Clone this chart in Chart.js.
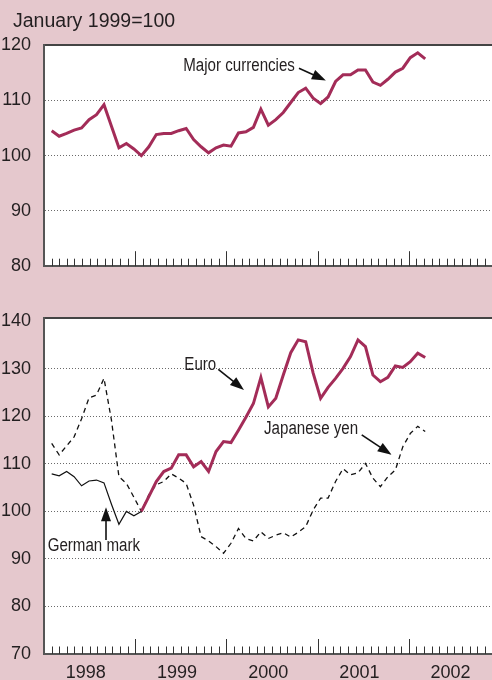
<!DOCTYPE html>
<html>
<head>
<meta charset="utf-8">
<script src="https://cdn.jsdelivr.net/npm/chart.js@4/dist/chart.umd.min.js"></script>
<style>
html,body{margin:0;padding:0;background:#e5c8cd;}
#wrap{position:relative;width:492px;height:680px;background:#e5c8cd;overflow:hidden;}
#wrap canvas{position:absolute;left:0;}
#c1{top:0;}
#c2{top:290px;}
#unit{position:absolute;left:13px;top:8px;line-height:24px;font-family:"Liberation Sans",Arial,Helvetica,sans-serif;font-size:19.5px;color:#231f20;white-space:nowrap;}
</style>
</head>
<body>
<div id="wrap">
<canvas id="c1" width="492" height="290"></canvas>
<canvas id="c2" width="492" height="390"></canvas>
<div id="unit">January 1999=100</div>
</div>
<script>
// ---- data (monthly, January 1999 = 100) ----
const months = ['1998-01','1998-02','1998-03','1998-04','1998-05','1998-06','1998-07','1998-08','1998-09','1998-10','1998-11','1998-12',
'1999-01','1999-02','1999-03','1999-04','1999-05','1999-06','1999-07','1999-08','1999-09','1999-10','1999-11','1999-12',
'2000-01','2000-02','2000-03','2000-04','2000-05','2000-06','2000-07','2000-08','2000-09','2000-10','2000-11','2000-12',
'2001-01','2001-02','2001-03','2001-04','2001-05','2001-06','2001-07','2001-08','2001-09','2001-10','2001-11','2001-12',
'2002-01','2002-02','2002-03'];
const yearLabels = ['1998','1999','2000','2001','2002'];

const majorCurrencies = [104.5,103.5,104.0,104.6,105.0,106.5,107.4,109.2,105.3,101.4,102.2,101.2,
100.0,101.6,103.8,104.0,104.0,104.5,104.9,102.9,101.6,100.5,101.4,101.9,
101.7,104.1,104.3,105.1,108.4,105.5,106.5,107.8,109.6,111.4,112.2,110.4,
109.4,110.6,113.4,114.6,114.6,115.5,115.5,113.3,112.7,113.8,115.1,115.8,
117.7,118.6,117.5];

const euro = [null,null,null,null,null,null,null,null,null,null,null,null,
100.0,103.1,106.3,108.4,109.1,111.9,111.9,109.4,110.5,108.4,112.6,114.7,
114.5,117.1,119.8,122.7,128.2,122.0,123.8,128.7,133.4,136.1,135.7,129.1,
123.8,126.1,128.0,130.1,132.6,136.1,134.7,128.7,127.3,128.2,130.6,130.3,
131.5,133.3,132.4];

const germanMark = [107.9,107.5,108.4,107.3,105.4,106.4,106.6,106.0,101.5,97.3,100.0,99.1,100.0];

const japaneseYen = [114.3,111.9,113.8,115.7,119.5,123.9,124.5,128.0,119.2,107.3,105.9,103.0,
100.0,103.5,105.6,106.3,107.9,107.0,105.9,101.3,94.7,93.8,92.6,91.2,
93.3,96.4,94.3,93.8,95.7,94.3,95.0,95.5,94.6,95.6,96.8,100.3,
102.8,102.8,106.3,109.0,107.7,108.1,110.1,107.0,105.2,107.3,108.7,113.6,
116.4,117.9,116.8];

const topRange = [80, 120];
const bottomRange = [70, 140];

// ---- styling ----
const FONT = '"Liberation Sans", Arial, Helvetica, sans-serif';
const TEXT = '#231f20';
const CRIMSON = '#a32c58';
const AXIS = '#555555';

const pts = arr => arr.map((v, i) => ({x: i, y: v}));

const areaBg = {
  id: 'areaBg',
  beforeDraw(chart) {
    const {ctx, chartArea: a} = chart;
    ctx.save();
    ctx.fillStyle = '#ffffff';
    ctx.fillRect(a.left, a.top, a.right - a.left, a.bottom - a.top);
    ctx.restore();
  }
};

const monthTicks = {
  id: 'monthTicks',
  afterDraw(chart) {
    const {ctx, chartArea: a} = chart;
    const s = chart.scales.xt;
    ctx.save();
    ctx.strokeStyle = '#333';
    ctx.lineWidth = 1;
    for (let m = 1; m < s.max; m++) {
      const x = Math.round(s.getPixelForValue(m)) + 0.5;
      const len = (m % 12 === 0) ? 15 : 7.5;
      ctx.beginPath();
      ctx.moveTo(x, a.bottom);
      ctx.lineTo(x, a.bottom - len);
      ctx.stroke();
    }
    ctx.restore();
  }
};

const notes = {
  id: 'notes',
  afterDatasetsDraw(chart, args, opts) {
    const {ctx} = chart;
    const xs = chart.scales.x, ys = chart.scales.y;
    (opts.items || []).forEach(n => {
      ctx.save();
      ctx.font = '18px ' + FONT;
      ctx.fillStyle = TEXT;
      ctx.textBaseline = 'middle';
      ctx.textAlign = 'left';
      ctx.translate(xs.getPixelForValue(n.at[0]), ys.getPixelForValue(n.at[1]));
      ctx.scale(0.84, 1);
      ctx.fillText(n.text, 0, 0);
      ctx.restore();

      const x1 = xs.getPixelForValue(n.from[0]), y1 = ys.getPixelForValue(n.from[1]);
      const x2 = xs.getPixelForValue(n.to[0]), y2 = ys.getPixelForValue(n.to[1]);
      const ang = Math.atan2(y2 - y1, x2 - x1);
      const L = 14, W = 5;
      const c = Math.cos(ang), s = Math.sin(ang);
      const bx = x2 - L * c, by = y2 - L * s;
      ctx.save();
      ctx.strokeStyle = '#111';
      ctx.fillStyle = '#111';
      ctx.lineWidth = 1.6;
      ctx.beginPath();
      ctx.moveTo(x1, y1);
      ctx.lineTo(bx + 2 * c, by + 2 * s);
      ctx.stroke();
      ctx.beginPath();
      ctx.moveTo(x2, y2);
      ctx.lineTo(bx + W * s, by - W * c);
      ctx.lineTo(bx - W * s, by + W * c);
      ctx.closePath();
      ctx.fill();
      ctx.restore();
    });
  }
};

function scalesFor(range, yMax, showYears, xtHeight) {
  return {
    x: {type: 'linear', display: false, min: -1.03, max: 58.94},
    xtop: {
      type: 'linear', position: 'top', min: 0, max: 1,
      ticks: {display: false}, grid: {display: false},
      border: {display: true, color: '#444', width: 2},
      afterFit(s) { s.height = 0; }
    },
    xt: {
      type: 'linear', position: 'bottom', min: 0, max: 58.95,
      grid: {display: false},
      border: {display: true, color: AXIS, width: 2},
      afterBuildTicks(s) { s.ticks = yearLabels.map((y, j) => ({value: j * 12 + 5.5})); },
      ticks: {
        display: showYears, autoSkip: false, maxRotation: 0, padding: 0,
        color: TEXT, font: {family: FONT, size: 18},
        callback: (v, i) => yearLabels[i]
      },
      afterFit(s) { s.height = xtHeight; }
    },
    y: {
      type: 'linear', min: range[0], max: yMax,
      ticks: {stepSize: 10, includeBounds: false, padding: 13, color: TEXT, font: {family: FONT, size: 18}},
      grid: {
        drawTicks: false, lineWidth: 1,
        color: c => (c.tick && (c.tick.value === range[0] || c.tick.value === range[1])) ? 'rgba(0,0,0,0)' : '#6a6a6a'
      },
      border: {display: true, color: AXIS, width: 2, dash: [1, 2]},
      afterFit(s) { s.width = 44; }
    }
  };
}

const common = {
  responsive: false,
  animation: false,
  devicePixelRatio: 1,
  elements: {point: {radius: 0}, line: {tension: 0}}
};

new Chart(document.getElementById('c1'), {
  type: 'line',
  data: {
    datasets: [{
      label: 'Major currencies', data: pts(majorCurrencies),
      borderColor: CRIMSON, borderWidth: 3, fill: false
    }]
  },
  options: Object.assign({}, common, {
    layout: {padding: {left: 0, right: 0, top: 45, bottom: 0}},
    scales: scalesFor(topRange, 120, false, 15),
    plugins: {
      legend: {display: false},
      tooltip: {enabled: false},
      notes: {items: [
        {text: 'Major currencies', at: [17.6, 116.2], from: [33.1, 115.8], to: [36.7, 113.6]}
      ]}
    }
  }),
  plugins: [areaBg, monthTicks, notes]
});

new Chart(document.getElementById('c2'), {
  type: 'line',
  data: {
    datasets: [
      {label: 'Euro', data: pts(euro), borderColor: CRIMSON, borderWidth: 3, fill: false},
      {label: 'German mark', data: pts(germanMark), borderColor: '#111', borderWidth: 1.2, fill: false},
      {label: 'Japanese yen', data: pts(japaneseYen), borderColor: '#111', borderWidth: 1.3, borderDash: [5, 4], fill: false}
    ]
  },
  options: Object.assign({}, common, {
    layout: {padding: {left: 0, right: 0, top: 28, bottom: 0}},
    scales: scalesFor(bottomRange, 140.7, true, 26),
    plugins: {
      legend: {display: false},
      tooltip: {enabled: false},
      notes: {items: [
        {text: 'Euro', at: [17.75, 130.7], from: [22.3, 129.9], to: [25.74, 125.55]},
        {text: 'Japanese yen', at: [28.42, 117.4], from: [41.5, 116.1], to: [45.5, 111.9]},
        {text: 'German mark', at: [-0.54, 92.7], from: [7.27, 94.0], to: [7.27, 100.9]}
      ]}
    }
  }),
  plugins: [areaBg, monthTicks, notes]
});
</script>
</body>
</html>
